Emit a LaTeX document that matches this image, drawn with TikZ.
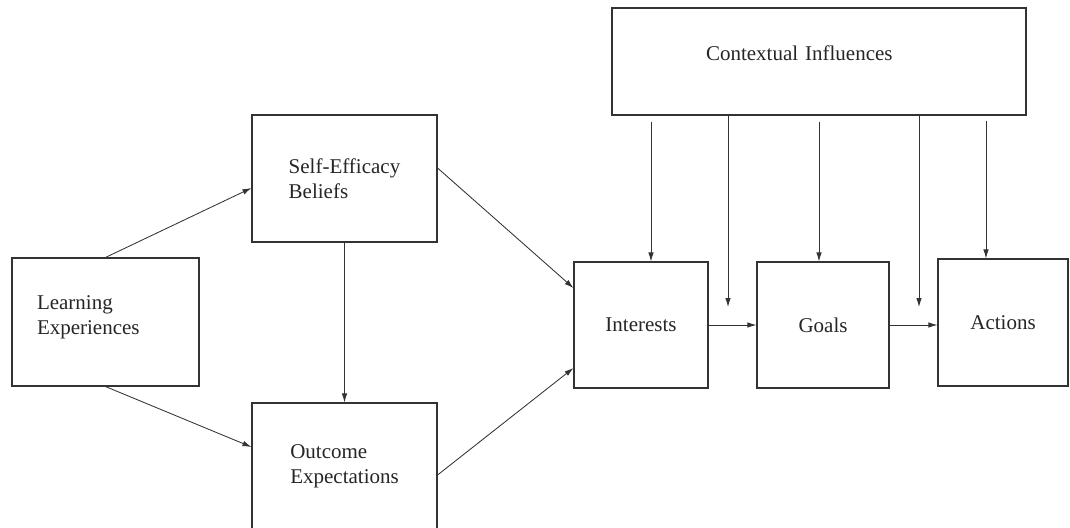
\documentclass[tikz,border=0pt]{standalone}
\usepackage{fontspec}
\setmainfont{Liberation Serif}
\usetikzlibrary{arrows.meta,positioning}

\begin{document}
\begin{tikzpicture}[x=1pt,y=-1pt,
    box/.style={draw=black!80, line width=1.1pt, inner sep=0pt, align=left,
      font=\fontsize{21}{25}\selectfont, text=black!85},
    arr/.style={-{Latex[length=9pt,width=5.5pt]}, line width=0.85pt, draw=black!80}]
   \useasboundingbox (0,0) rectangle (1070,527);
   \clip (0,0) rectangle (1070,527);
   \fill [white] (0,0) rectangle (1070,527);

   % Draw boxes
   \node (learn) [box, minimum height=128pt, text width=137pt, inner xsep=25pt, text depth=38pt] at (105.5,322) {Learning\\Experiences};
   \node (self) [box, minimum width=185pt, minimum height=127pt] at (344.5,178.5) {Self-Efficacy\\Beliefs};
   \node (outcome) [box, minimum width=185pt, minimum height=127pt] at (344.5,466.5) {Outcome\\Expectations};
   \node (interests) [box, minimum width=134pt, minimum height=126pt] at (641,325) {Interests};
   \node (goals) [box, minimum width=132pt, minimum height=126pt] at (823,325) {Goals};
   \node (actions) [box, minimum width=130pt, minimum height=127pt] at (1003,322.5) {Actions};
   \node (context) [box, minimum height=107pt, text width=226pt, inner xsep=94pt, text depth=16pt] at (819,61.5) {Contextual Influences};

   % Draw connectors on the left
   \draw [arr] (learn.north) -- ([yshift=-9.5pt]self.west);
   \draw [arr] (learn.south) -- ([yshift=19.5pt]outcome.west);
   \draw [arr] (self.south) -- (outcome.north);
   \draw [arr] ([yshift=10.5pt]self.east) -- ([yshift=37pt]interests.west);
   \draw [arr] ([yshift=-8.5pt]outcome.east) -- ([yshift=-43pt]interests.west);

   % Draw chain on the right
   \draw [arr] (interests.east) -- (goals.west);
   \draw [arr] (goals.east) -- (goals.east -| actions.west);

   % Draw contextual arrows
   \coordinate (ig) at (728,307);
   \coordinate (ga) at (919,307);
   \draw [arr] ([xshift=10pt,yshift=-6pt]interests.north |- context.south) -- ([xshift=10pt]interests.north);
   \draw [arr] (context.south -| ig) -- (ig);
   \draw [arr] ([xshift=-4pt,yshift=-6pt]goals.north |- context.south) -- ([xshift=-4pt]goals.north);
   \draw [arr] (context.south -| ga) -- (ga);
   \draw [arr] ([xshift=-17pt,yshift=-5pt]actions.north |- context.south) -- ([xshift=-17pt]actions.north);
\end{tikzpicture}
\end{document}
